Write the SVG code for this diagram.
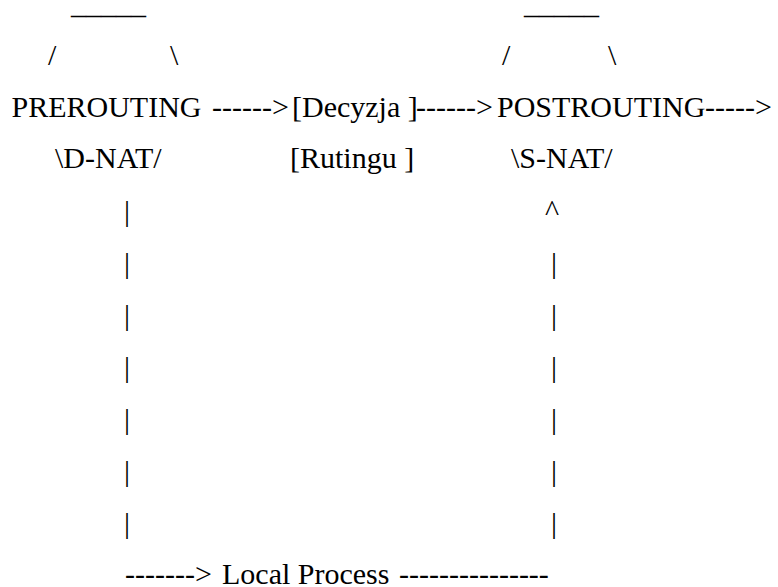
<svg xmlns="http://www.w3.org/2000/svg" width="778" height="587" viewBox="0 0 778 587">
<style>
text{font-family:"Liberation Serif","Times New Roman",serif;font-size:30px;fill:#000}
</style>
<rect width="778" height="587" fill="#fff"/>
<g id="prerouting">
<text x="71" y="14">_____</text>
<text x="48" y="65">/</text>
<text x="170" y="65">\</text>
<text x="11.5" y="117">PREROUTING</text>
<text x="55" y="168">\D-NAT/</text>
</g>
<g id="decyzja">
<text x="292" y="117">[Decyzja ]</text>
<text x="290" y="168">[Rutingu ]</text>
</g>
<g id="postrouting">
<text x="524" y="14">_____</text>
<text x="502" y="65">/</text>
<text x="608" y="65">\</text>
<text x="497" y="117">POSTROUTING</text>
<text x="511" y="168">\S-NAT/</text>
</g>
<g id="local-process">
<text x="222" y="584">Local Process</text>
</g>
<g id="connectors">
<text x="212" y="117">------&gt;</text>
<text x="416" y="117">------&gt;</text>
<text x="705" y="117">-----&gt;</text>
<text x="124" y="221">|</text>
<text x="124" y="273">|</text>
<text x="124" y="325">|</text>
<text x="124" y="377">|</text>
<text x="124" y="429">|</text>
<text x="124" y="481">|</text>
<text x="124" y="533">|</text>
<text x="545" y="221">^</text>
<text x="551" y="273">|</text>
<text x="551" y="325">|</text>
<text x="551" y="377">|</text>
<text x="551" y="429">|</text>
<text x="551" y="481">|</text>
<text x="551" y="533">|</text>
<text x="125" y="584">-------&gt;</text>
<text x="399" y="584">---------------</text>
</g>
</svg>
